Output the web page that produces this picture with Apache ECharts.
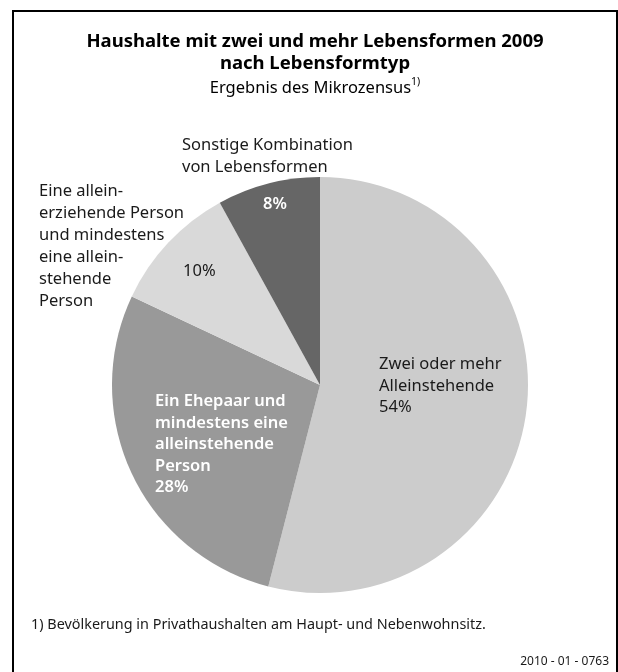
<!DOCTYPE html>
<html>
<head>
<meta charset="utf-8">
<script src="https://cdn.jsdelivr.net/npm/echarts@6/dist/echarts.min.js"></script>
<style>
  html, body { margin: 0; padding: 0; background: #fff; }
  #chart { width: 618px; height: 672px; }
</style>
</head>
<body>
<div id="chart"></div>
<script>
// Household types with two or more forms of living, 2009 (percent)
const categories = [
  'Zwei oder mehr\nAlleinstehende',
  'Ein Ehepaar und\nmindestens eine\nalleinstehende\nPerson',
  'Eine allein-\nerziehende Person\nund mindestens\neine allein-\nstehende\nPerson',
  'Sonstige Kombination\nvon Lebensformen'
];
const shares = [54, 28, 10, 8];
const sliceColors = ['#cccccc', '#999999', '#d9d9d9', '#666666'];

const titleLines = 'Haushalte mit zwei und mehr Lebensformen 2009\nnach Lebensformtyp';
const subtitle = 'Ergebnis des Mikrozensus';
const footnote = '1) Bevölkerung in Privathaushalten am Haupt- und Nebenwohnsitz.';
const chartCode = '2010 - 01 - 0763';

const FONT = '"Noto Sans", sans-serif';
const LABEL_SIZE = 16.5;
const LINE_H = 21.5;

// label placement per slice: top-left corner of the text block, name shown inside?
const labelSpots = [
  { x: 379, y: 354, inside: true, color: '#1a1a1a', weight: 'normal' },
  { x: 155, y: 391, inside: true, color: '#ffffff', weight: 600 },
  { x: 183, y: 261, inside: false, color: '#1a1a1a', weight: 'normal' },
  { x: 263, y: 194, inside: false, color: '#ffffff', weight: 600 }
];

const chart = echarts.init(document.getElementById('chart'), null, { renderer: 'canvas' });

chart.setOption({
  backgroundColor: '#ffffff',
  animation: false,
  graphic: [
    { type: 'rect', shape: { x: 13, y: 11, width: 604, height: 680 },
      style: { fill: 'none', stroke: '#000', lineWidth: 2 }, silent: true },
    { type: 'text', x: 315, y: 31,
      style: { text: titleLines, font: 'bold 18.5px ' + FONT, fill: '#000',
        align: 'center', verticalAlign: 'top', lineHeight: 22 } },
    { type: 'text', x: 315, y: 77,
      style: { text: subtitle + '{sup|1)}', font: '16.5px ' + FONT, fill: '#000',
        align: 'center', verticalAlign: 'top', lineHeight: 22,
        rich: { sup: { fontSize: 10.5, verticalAlign: 'top', lineHeight: 14, fontFamily: FONT, fill: '#000' } } } },
    // names of the two small slices, set beside the pie
    { type: 'text', x: 182, y: 135,
      style: { text: categories[3], font: LABEL_SIZE + 'px ' + FONT, fill: '#1a1a1a',
        verticalAlign: 'top', lineHeight: LINE_H } },
    { type: 'text', x: 39, y: 180,
      style: { text: categories[2], font: LABEL_SIZE + 'px ' + FONT, fill: '#1a1a1a',
        verticalAlign: 'top', lineHeight: 22 } },
    { type: 'text', x: 31, y: 615,
      style: { text: footnote, font: '14.4px ' + FONT, fill: '#1a1a1a',
        verticalAlign: 'top', lineHeight: 20 } },
    { type: 'text', x: 609, y: 655,
      style: { text: chartCode, font: '12px ' + FONT, fill: '#1a1a1a',
        align: 'right', verticalAlign: 'top', lineHeight: 14 } }
  ],
  series: [{
    type: 'pie',
    center: [320, 385],
    radius: [0, 208],
    startAngle: 90,
    clockwise: true,
    silent: true,
    data: categories.map((name, i) => ({
      name: name,
      value: shares[i],
      itemStyle: { color: sliceColors[i] },
      label: {
        color: labelSpots[i].color,
        fontWeight: labelSpots[i].weight
      }
    })),
    label: {
      show: true,
      position: 'inside',
      fontFamily: FONT,
      fontSize: LABEL_SIZE,
      lineHeight: LINE_H,
      align: 'left',
      formatter: p => labelSpots[p.dataIndex].inside ? p.name + '\n' + p.value + '%' : p.value + '%'
    },
    labelLine: { show: false },
    labelLayout: p => ({
      x: labelSpots[p.dataIndex].x,
      y: labelSpots[p.dataIndex].y,
      align: 'left',
      verticalAlign: 'top'
    })
  }]
});
</script>
</body>
</html>
